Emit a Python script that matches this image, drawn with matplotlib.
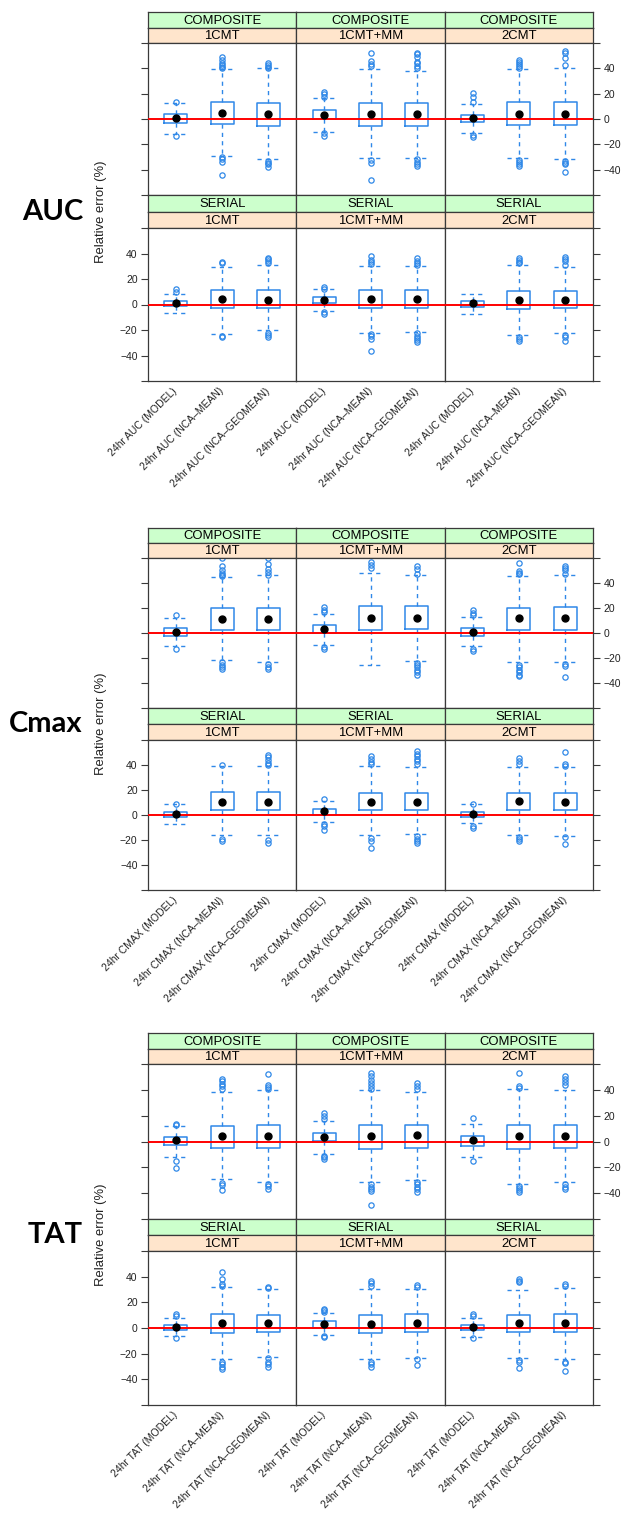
import matplotlib
matplotlib.use("Agg")
import matplotlib.pyplot as plt

plt.rcParams['font.family'] = ['Liberation Sans', 'DejaVu Sans']

# ---- data ----
models = ["1CMT", "1CMT+MM", "2CMT"]
designs = ["COMPOSITE", "SERIAL"]
methods = ["MODEL", "NCA\u2013MEAN", "NCA\u2013GEOMEAN"]
yticks = [-60, -40, -20, 0, 20, 40, 60]

# order of the 9 boxes: 1CMT x3 methods, 1CMT+MM x3, 2CMT x3
auc_comp_q1 = [-2.9, -4.2, -5.3, 0.3, -5.3, -5.3, -2.6, -5.0, -5.0]
auc_comp_med = [1.0, 4.7, 4.2, 3.2, 3.7, 4.2, 0.8, 4.2, 4.2]
auc_comp_q3 = [3.7, 13.2, 12.9, 6.8, 12.9, 12.9, 3.4, 13.2, 13.7]
auc_comp_lo = [-12.1, -29.2, -31.3, -10.0, -30.5, -30.5, -11.3, -30.5, -31.3]
auc_comp_hi = [12.4, 39.2, 40.0, 16.6, 39.7, 37.9, 11.6, 39.5, 40.0]
auc_comp_out = [
    [13.7, -13.2],
    [49.2, 46.6, 44.0, 42.6, 41.3, 40.0, -30.3, -31.8, -33.7, -44.2],
    [44.5, 42.6, 41.3, 40.5, -32.9, -34.5, -35.8, -37.6],
    [21.6, 19.7, 17.6, -11.3, -13.4],
    [52.4, 45.8, 43.4, 41.8, -32.4, -35.0, -48.2],
    [52.4, 51.0, 49.2, 45.3, 44.0, 41.8, 40.0, -31.8, -33.7, -35.5, -37.1],
    [20.3, 17.1, 13.7, -12.6, -13.9],
    [46.6, 45.0, 43.4, 41.8, 40.3, -32.4, -34.0, -35.8, -37.1],
    [53.7, 52.4, 48.4, 42.6, -32.9, -34.5, -35.8, -41.6],
]

auc_ser_q1 = [-1.3, -3.1, -2.6, 1.3, -2.9, -2.6, -1.6, -3.4, -2.9]
auc_ser_med = [0.8, 4.2, 3.9, 3.4, 4.2, 4.2, 0.8, 3.9, 3.9]
auc_ser_q3 = [3.1, 11.0, 11.0, 5.8, 11.0, 11.0, 2.4, 10.5, 10.7]
auc_ser_lo = [-6.5, -23.3, -20.1, -5.0, -22.0, -21.2, -7.3, -23.8, -22.2]
auc_ser_hi = [8.6, 29.8, 31.1, 12.0, 30.0, 30.0, 8.6, 30.6, 29.8]
auc_ser_out = [
    [11.8, 9.9],
    [33.7, 32.2, -24.6, -25.6],
    [36.6, 35.3, 34.0, 32.7, -22.7, -24.3, -25.6],
    [13.9, 12.5, -5.8, -7.1],
    [38.2, 34.8, 33.5, 31.6, -23.3, -24.8, -26.7, -36.3],
    [36.6, 34.2, 32.2, 30.6, -22.7, -24.6, -26.4, -28.0, -29.8],
    [],
    [36.3, 34.8, 33.5, 32.2, -25.4, -26.9, -28.5],
    [37.4, 35.8, 34.0, 30.6, -23.8, -25.4, -28.5],
]

cmax_comp_q1 = [-2.7, 2.7, 2.4, 0.2, 2.1, 3.5, -2.4, 2.7, 2.7]
cmax_comp_med = [1.1, 11.5, 11.5, 3.2, 12.3, 12.3, 0.8, 11.7, 12.0]
cmax_comp_q3 = [3.7, 19.7, 20.3, 6.7, 21.3, 21.6, 3.7, 20.0, 20.5]
cmax_comp_lo = [-10.4, -21.9, -22.9, -9.3, -25.3, -22.1, -10.4, -23.2, -22.9]
cmax_comp_hi = [11.7, 44.5, 46.1, 15.2, 48.0, 46.1, 13.1, 45.8, 46.4]
cmax_comp_out = [
    [14.1, -13.1],
    [60.0, 53.9, 50.7, 48.0, 46.7, 45.3, -23.2, -25.3, -27.5, -29.1],
    [60.0, 55.2, 51.2, 48.5, 46.7, -24.8, -26.9, -28.5],
    [20.5, 18.7, 16.8, -11.2, -12.5],
    [56.8, 54.1, 52.0],
    [53.3, 51.2, 47.5, -24.0, -25.9, -27.5, -29.3, -31.2, -33.3],
    [18.1, 16.0, 14.1, -12.5, -14.1],
    [56.0, 49.3, 48.0, 47.0, -25.3, -27.5, -29.3, -31.2, -33.3, -34.7],
    [53.9, 52.0, 50.1, 47.2, -24.8, -26.7, -35.2],
]

cmax_ser_q1 = [-1.9, 3.8, 3.8, 0.0, 3.8, 3.8, -1.6, 3.8, 3.8]
cmax_ser_med = [0.5, 10.7, 10.7, 3.2, 10.7, 10.7, 0.5, 11.0, 10.7]
cmax_ser_q3 = [2.7, 18.3, 18.3, 4.8, 18.0, 18.0, 2.4, 18.0, 18.0]
cmax_ser_lo = [-7.2, -16.1, -16.1, -5.9, -16.1, -14.8, -6.7, -16.1, -16.4]
cmax_ser_hi = [8.9, 38.9, 38.9, 11.3, 38.9, 38.1, 8.6, 38.4, 38.7]
cmax_ser_out = [
    [9.2],
    [40.0, -18.8, -20.4],
    [48.3, 46.2, 44.0, 41.6, 39.7, -20.1, -22.0],
    [12.9, -7.0, -8.6, -12.1],
    [47.0, 44.8, 42.4, 40.8, -18.3, -20.9, -26.3],
    [51.0, 48.9, 47.0, 44.8, 43.0, 40.8, -16.9, -18.8, -20.9, -22.3],
    [9.2, -8.6, -10.2],
    [45.6, 43.0, 40.8, -17.4, -18.8, -20.4],
    [50.5, 40.8, 39.4, -17.7, -22.8],
]

tat_comp_q1 = [-2.9, -5.0, -5.0, 0.2, -5.8, -4.7, -3.1, -5.5, -5.2]
tat_comp_med = [0.8, 3.9, 4.4, 3.1, 4.2, 4.7, 1.3, 3.9, 4.4]
tat_comp_q3 = [3.4, 12.3, 13.1, 6.5, 13.1, 13.1, 4.2, 13.1, 13.1]
tat_comp_lo = [-11.8, -29.3, -31.6, -9.4, -31.4, -29.5, -11.8, -32.7, -31.4]
tat_comp_hi = [12.0, 38.7, 39.5, 16.2, 40.0, 38.4, 13.9, 40.3, 39.5]
tat_comp_out = [
    [13.9, 12.8, -14.9, -20.7],
    [48.4, 46.5, 44.7, 42.6, 40.5, -31.9, -33.7, -37.9],
    [52.5, 43.9, 42.1, 40.5, -33.2, -34.8, -36.6],
    [22.2, 19.6, 17.5, -11.0, -12.3, -13.9],
    [53.0, 50.5, 47.8, 45.2, 42.6, 40.8, -33.2, -35.0, -37.1, -38.4, -48.9],
    [45.2, 42.6, 40.5, -31.1, -33.2, -35.0, -37.1, -39.0],
    [18.3, -15.4],
    [53.1, 43.1, 41.3, -34.2, -35.8, -37.6, -39.2],
    [50.5, 48.4, 46.3, 43.9, -33.2, -35.0, -37.1],
]

tat_ser_q1 = [-1.8, -3.6, -3.1, 0.3, -3.9, -2.8, -1.8, -3.4, -3.1]
tat_ser_med = [0.8, 3.9, 3.9, 3.1, 3.4, 3.9, 0.8, 3.6, 3.6]
tat_ser_q3 = [2.6, 10.6, 10.3, 5.4, 10.3, 11.1, 2.1, 10.3, 10.8]
tat_ser_lo = [-6.5, -24.0, -22.5, -5.2, -24.3, -23.0, -7.0, -23.7, -24.0]
tat_ser_hi = [8.0, 31.7, 30.5, 11.6, 30.7, 30.7, 8.0, 29.7, 31.2]
tat_ser_out = [
    [11.1, 9.3, -7.7],
    [43.4, 38.2, 34.3, 32.8, -26.3, -28.1, -30.2, -32.0],
    [32.0, 31.2, -23.7, -26.3, -28.1, -30.2],
    [15.0, 13.7, 12.4, -6.2, -7.0],
    [36.9, 35.1, 33.0, -26.3, -28.4, -30.2],
    [33.5, 32.3, -24.5, -28.6],
    [11.1, 9.3, -7.7],
    [38.2, 36.9, 35.6, -25.0, -26.3, -31.5],
    [34.3, 33.0, -26.3, -27.6, -33.3],
]

blocks = [
    ("AUC", "24hr AUC",
     [(auc_comp_q1, auc_comp_med, auc_comp_q3, auc_comp_lo, auc_comp_hi, auc_comp_out),
      (auc_ser_q1, auc_ser_med, auc_ser_q3, auc_ser_lo, auc_ser_hi, auc_ser_out)]),
    ("Cmax", "24hr CMAX",
     [(cmax_comp_q1, cmax_comp_med, cmax_comp_q3, cmax_comp_lo, cmax_comp_hi, cmax_comp_out),
      (cmax_ser_q1, cmax_ser_med, cmax_ser_q3, cmax_ser_lo, cmax_ser_hi, cmax_ser_out)]),
    ("TAT", "24hr TAT",
     [(tat_comp_q1, tat_comp_med, tat_comp_q3, tat_comp_lo, tat_comp_hi, tat_comp_out),
      (tat_ser_q1, tat_ser_med, tat_ser_q3, tat_ser_lo, tat_ser_hi, tat_ser_out)]),
]

# ---- layout in pixels ----
W, H = 624, 1513
X_EDGES = [148, 296.3, 444.7, 593]
# strip top, comp panel top, comp panel bottom, serial panel top, serial panel bottom
BLOCK_Y = [(12, 43, 195, 228, 381), (528, 558, 708, 740, 890), (1033, 1064, 1219, 1251, 1405)]

BLUE = '#2f88e8'
FRAME = '#3a3a3a'
GREEN = '#ccffcc'
PEACH = '#ffe5cc'


def rect(x0, y0, x1, y1):
    return [x0 / W, 1 - y1 / H, (x1 - x0) / W, (y1 - y0) / H]


def fmt(v):
    if v in (-60, 60):
        return ''
    return str(v).replace('-', '\u2212')


def strip(fig, x0, x1, y0, y1, color, label):
    sa = fig.add_axes(rect(x0, y0, x1, y1))
    sa.set_facecolor(color)
    sa.set_xticks([])
    sa.set_yticks([])
    for s in sa.spines.values():
        s.set_color(FRAME)
        s.set_linewidth(0.9)
    sa.text(0.5, 0.45, label, transform=sa.transAxes, ha='center', va='center',
            fontsize=9.4, color='black')


fig = plt.figure(figsize=(W / 100, H / 100), dpi=100)

for (name, prefix, rows), (ys, yp0, yp1, ys2, yp2) in zip(blocks, BLOCK_Y):
    panel_y = [(ys, yp0, yp1), (yp1, ys2, yp2)]
    for r, (q1, med, q3, lo, hi, out) in enumerate(rows):
        st, pt, pb = panel_y[r]
        mid = (st + pt) / 2
        for c in range(3):
            x0, x1 = X_EDGES[c], X_EDGES[c + 1]
            strip(fig, x0, x1, st, mid, GREEN, designs[r])
            strip(fig, x0, x1, mid, pt, PEACH, models[c])

            ax = fig.add_axes(rect(x0, pt, x1, pb))
            stats = []
            for k in range(3):
                i = c * 3 + k
                stats.append(dict(q1=q1[i], med=med[i], q3=q3[i],
                                  whislo=lo[i], whishi=hi[i], fliers=out[i]))
            ax.bxp(stats, positions=[1, 2, 3], widths=0.5, capwidths=0.5,
                   showfliers=True, patch_artist=False,
                   boxprops=dict(color=BLUE, linewidth=1.1),
                   whiskerprops=dict(color=BLUE, linewidth=1.0, linestyle=(0, (3, 3))),
                   capprops=dict(color=BLUE, linewidth=1.0, linestyle=(0, (3, 3))),
                   medianprops=dict(linewidth=0),
                   flierprops=dict(marker='o', markerfacecolor='none', markeredgecolor=BLUE,
                                   markersize=3.8, markeredgewidth=0.9))
            ax.axhline(0, color='#ff0000', linewidth=1.4, zorder=3)
            ax.plot([1, 2, 3], med[c * 3:c * 3 + 3], 'o', color='black', markersize=5, zorder=4)

            ax.set_xlim(0.4, 3.6)
            ax.set_ylim(-60, 60)
            for s in ax.spines.values():
                s.set_color(FRAME)
                s.set_linewidth(0.9)

            ax.set_yticks(yticks)
            ax.set_yticklabels([fmt(v) for v in yticks])
            ax.tick_params(axis='y', direction='out', length=5, width=0.8, color=FRAME,
                           labelsize=7.5, pad=2.5, labelcolor='#222222',
                           left=(c == 0), right=(c == 2),
                           labelleft=(c == 0 and r == 1), labelright=(c == 2 and r == 0))

            if r == 1:
                ax.set_xticks([1, 2, 3])
                ax.set_xticklabels([f"{prefix} ({m})" for m in methods], rotation=45,
                                   ha='right', va='center', rotation_mode='anchor',
                                   fontsize=7.5, color='#222222')
                ax.tick_params(axis='x', length=0, pad=6)
            else:
                ax.set_xticks([])

    yc = (yp1 + ys2) / 2
    fig.text(101 / W, 1 - yc / H, 'Relative error (%)', rotation=90, ha='center', va='center',
             fontsize=9.4, color='#222222')
    fig.text(83 / W, 1 - yc / H, name, ha='right', va='center', fontsize=21, fontweight='bold',
             family=['Lato', 'Open Sans', 'DejaVu Sans'])

fig.savefig('out.png', dpi=100)
